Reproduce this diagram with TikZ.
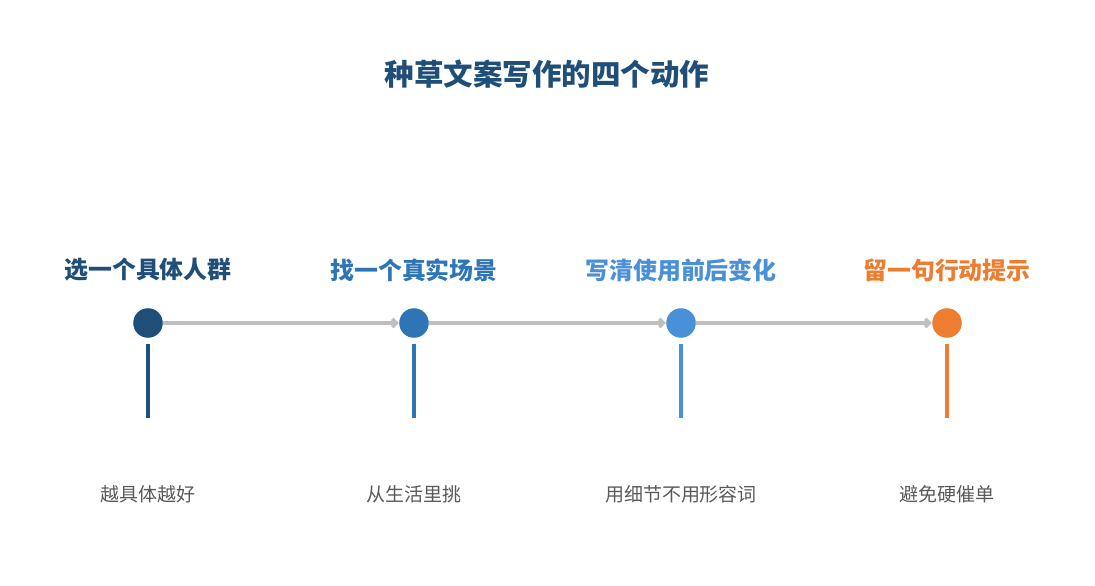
\documentclass[tikz,border=0pt]{standalone}
\usepackage{fontspec}
\newfontfamily\cjk{Noto Sans CJK SC}
\usetikzlibrary{arrows.meta}
\definecolor{cA}{HTML}{1F4E79}
\definecolor{cB}{HTML}{2E75B6}
\definecolor{cC}{HTML}{4A90D9}
\definecolor{cD}{HTML}{ED7D31}
\definecolor{lnk}{HTML}{BFBFBF}
\definecolor{sub}{HTML}{595959}
\tikzset{
  dot/.style={circle,fill=#1,minimum size=21pt,inner sep=0pt},
  head/.style={font=\cjk\bfseries\fontsize{17}{20}\selectfont,text=#1},
  note/.style={font=\cjk\fontsize{13.5}{16}\selectfont,text=sub},
  stem/.style={line width=3pt,draw=#1},
  link/.style={line width=2.5pt,draw=lnk,-{Straight Barb[length=3pt,width=6pt]}}
}
\begin{document}
\begin{tikzpicture}[x=0.025cm,y=-0.025cm]
\useasboundingbox (0,0) rectangle (1095,585);
\node[font=\cjk\bfseries\fontsize{21}{24}\selectfont,text=cA] (title) at (547,74) {种草文案写作的四个动作};

% steps
\foreach \n/\x/\c/\h/\s in {a/148/cA/选一个具体人群/越具体越好,
                            b/414/cB/找一个真实场景/从生活里挑,
                            c/681/cC/写清使用前后变化/用细节不用形容词,
                            d/947/cD/留一句行动提示/避免硬催单}{
  \node[dot=\c] (\n) at (\x,323) {};
  \node[head=\c] (\n h) at (\x,270) {\h};
  \node[note] (\n n) at (\x,494) {\s};
  \coordinate (\n t) at (\x,344);
  \coordinate (\n b) at (\x,418);
  \draw[stem=\c] (\n t) -- (\n b);
}
\draw[link] (a) -- (b);
\draw[link] (b) -- (c);
\draw[link] (c) -- (d);
\end{tikzpicture}
\end{document}
